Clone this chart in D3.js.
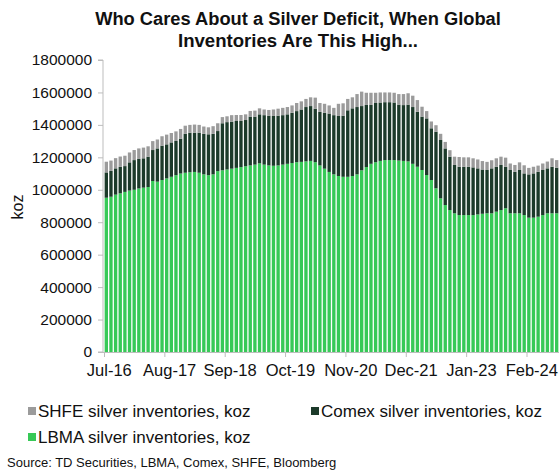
<!DOCTYPE html>
<html><head><meta charset="utf-8">
<script src="https://cdn.jsdelivr.net/npm/d3@7"></script>
<style>body{margin:0;background:#fff}svg{display:block;font-family:"Liberation Sans",Arial,sans-serif}</style>
</head><body><svg id="c" width="560" height="472"></svg>
<script>
const months = ["Jul-16","Aug-16","Sep-16","Oct-16","Nov-16","Dec-16",
"Jan-17","Feb-17","Mar-17","Apr-17","May-17","Jun-17","Jul-17","Aug-17","Sep-17","Oct-17","Nov-17","Dec-17",
"Jan-18","Feb-18","Mar-18","Apr-18","May-18","Jun-18","Jul-18","Aug-18","Sep-18","Oct-18","Nov-18","Dec-18",
"Jan-19","Feb-19","Mar-19","Apr-19","May-19","Jun-19","Jul-19","Aug-19","Sep-19","Oct-19","Nov-19","Dec-19",
"Jan-20","Feb-20","Mar-20","Apr-20","May-20","Jun-20","Jul-20","Aug-20","Sep-20","Oct-20","Nov-20","Dec-20",
"Jan-21","Feb-21","Mar-21","Apr-21","May-21","Jun-21","Jul-21","Aug-21","Sep-21","Oct-21","Nov-21","Dec-21",
"Jan-22","Feb-22","Mar-22","Apr-22","May-22","Jun-22","Jul-22","Aug-22","Sep-22","Oct-22","Nov-22","Dec-22",
"Jan-23","Feb-23","Mar-23","Apr-23","May-23","Jun-23","Jul-23","Aug-23","Sep-23","Oct-23","Nov-23","Dec-23",
"Jan-24","Feb-24","Mar-24","Apr-24","May-24","Jun-24","Jul-24","Aug-24"];
const tickLabels = ["Jul-16","Aug-17","Sep-18","Oct-19","Nov-20","Dec-21","Jan-23","Feb-24"];
const yTicks = [0,200000,400000,600000,800000,1000000,1200000,1400000,1600000,1800000];

const lbma = [951000,957000,970000,978000,987000,995000,1000000,1008000,1013000,1017000,
1054000,1050000,1060000,1070000,1080000,1090000,1100000,1105000,1108000,1110000,
1105000,1095000,1090000,1095000,1115000,1120000,1125000,1130000,1135000,1140000,
1145000,1150000,1155000,1163000,1155000,1150000,1148000,1150000,1155000,1160000,
1165000,1170000,1172000,1175000,1178000,1170000,1150000,1130000,1110000,1095000,
1085000,1080000,1080000,1085000,1095000,1120000,1140000,1160000,1170000,1178000,
1183000,1183000,1183000,1180000,1178000,1175000,1160000,1142000,1122000,1091000,
1060000,1009000,947000,906000,875000,855000,844000,844000,844000,844000,
848000,852000,855000,855000,865000,875000,886000,855000,855000,855000,
844000,828000,828000,834000,844000,855000,855000,855000];
const comex = [156000,159000,162000,164000,159000,174000,183000,182000,181000,187000,
191000,205000,212000,210000,212000,211000,215000,240000,244000,242000,
247000,250000,252000,250000,247000,290000,292000,290000,289000,284000,
285000,301000,296000,302000,305000,307000,307000,307000,305000,305000,
310000,315000,323000,335000,338000,330000,330000,345000,360000,365000,
370000,377000,410000,417000,415000,396000,383000,363000,365000,360000,
357000,357000,355000,345000,344000,350000,350000,339000,329000,349000,
319000,349000,360000,349000,329000,298000,298000,298000,298000,294000,
284000,273000,267000,277000,277000,278000,256000,267000,256000,267000,
257000,267000,273000,277000,278000,277000,287000,281000];
const shfe = [66000,64000,63000,63000,64000,61000,62000,65000,66000,64000,
55000,55000,58000,60000,58000,59000,60000,50000,48000,50000,
48000,45000,43000,47000,48000,38000,36000,40000,37000,37000,
35000,35000,37000,37000,35000,35000,40000,43000,45000,45000,
45000,50000,50000,50000,54000,68000,55000,55000,50000,45000,
75000,76000,70000,68000,80000,89000,75000,75000,63000,62000,
60000,60000,60000,65000,68000,70000,70000,72000,61000,45000,
42000,40000,38000,40000,40000,51000,60000,58000,58000,56000,
55000,52000,50000,50000,52000,51000,56000,40000,42000,47000,
50000,40000,41000,38000,40000,42000,52000,47000];

const seriesNames = ["LBMA silver inventories, koz","Comex silver inventories, koz","SHFE silver inventories, koz"];
const colors = ["#37c957","#1c3a2a","#9b9b9b"];

const svg = d3.select("#c");
const L = 104, R = 559, T = 60, B = 352;
const x = d3.scaleBand().domain(months).range([L, R]).paddingInner(0.28).paddingOuter(0.14);
const y = d3.scaleLinear().domain([0, 1800000]).range([B, T]);

const rows = months.map((m, i) => ({month: m, lbma: lbma[i], comex: comex[i], shfe: shfe[i]}));
const stack = d3.stack().keys(["lbma","comex","shfe"])(rows);

stack.forEach((s, k) => {
  svg.append("g").attr("fill", colors[k]).selectAll("rect").data(s).join("rect")
    .attr("x", d => x(d.data.month)).attr("width", x.bandwidth())
    .attr("y", d => y(d[1])).attr("height", d => y(d[0]) - y(d[1]));
});

// y axis
const ya = svg.append("g").attr("transform", `translate(${L-1},0)`)
  .call(d3.axisLeft(y).tickValues(yTicks).tickFormat(d3.format("d")).tickSize(5).tickPadding(6));
ya.select(".domain").attr("stroke", "#bdbdbd").attr("d", `M-5,${T}H0V${B}H-5`);
ya.selectAll(".tick line").attr("stroke", "#bdbdbd");
ya.selectAll("text").attr("font-size", 15.5).attr("fill", "#111").attr("font-family", "Liberation Sans, Arial, sans-serif");

// x axis
const step = x.step();
svg.append("line").attr("x1", L - 1).attr("x2", R).attr("y1", B + 0.5).attr("y2", B + 0.5).attr("stroke", "#bdbdbd");
const tickIdx = tickLabels.map(t => months.indexOf(t));
svg.append("g").selectAll("line").data(tickIdx).join("line")
  .attr("x1", i => x(months[i]) - step * x.paddingInner() / 2 + 0.5)
  .attr("x2", i => x(months[i]) - step * x.paddingInner() / 2 + 0.5)
  .attr("y1", B).attr("y2", B + 5).attr("stroke", "#bdbdbd");
svg.append("g").selectAll("text").data(tickLabels).join("text")
  .attr("x", t => x(t) + x.bandwidth() / 2 + 3).attr("y", 376)
  .attr("text-anchor", "middle").attr("font-size", 16.5).attr("fill", "#111").text(t => t);

// y label
svg.append("text").attr("transform", "translate(23,207) rotate(-90)").attr("text-anchor", "middle")
  .attr("font-size", 16).attr("fill", "#111").text("koz");

// title
svg.append("text").attr("x", 298).attr("y", 25).attr("text-anchor", "middle").attr("font-size", 18.3)
  .attr("font-weight", "bold").attr("fill", "#111").text("Who Cares About a Silver Deficit, When Global");
svg.append("text").attr("x", 298).attr("y", 47).attr("text-anchor", "middle").attr("font-size", 18.6)
  .attr("font-weight", "bold").attr("fill", "#111").text("Inventories Are This High...");

// legend
const legend = [
  {name: seriesNames[2], color: colors[2], x: 28, y: 411},
  {name: seriesNames[1], color: colors[1], x: 311, y: 411},
  {name: seriesNames[0], color: colors[0], x: 28, y: 437}
];
const lg = svg.append("g").selectAll("g").data(legend).join("g");
lg.append("rect").attr("x", d => d.x).attr("y", d => d.y - 4).attr("width", 8).attr("height", 8).attr("fill", d => d.color);
lg.append("text").attr("x", d => d.x + 10).attr("y", d => d.y + 6).attr("font-size", 17).attr("fill", "#111").text(d => d.name);

svg.append("text").attr("x", 7).attr("y", 467).attr("font-size", 13).attr("fill", "#111")
  .text("Source: TD Securities, LBMA, Comex, SHFE, Bloomberg");
</script></body></html>
